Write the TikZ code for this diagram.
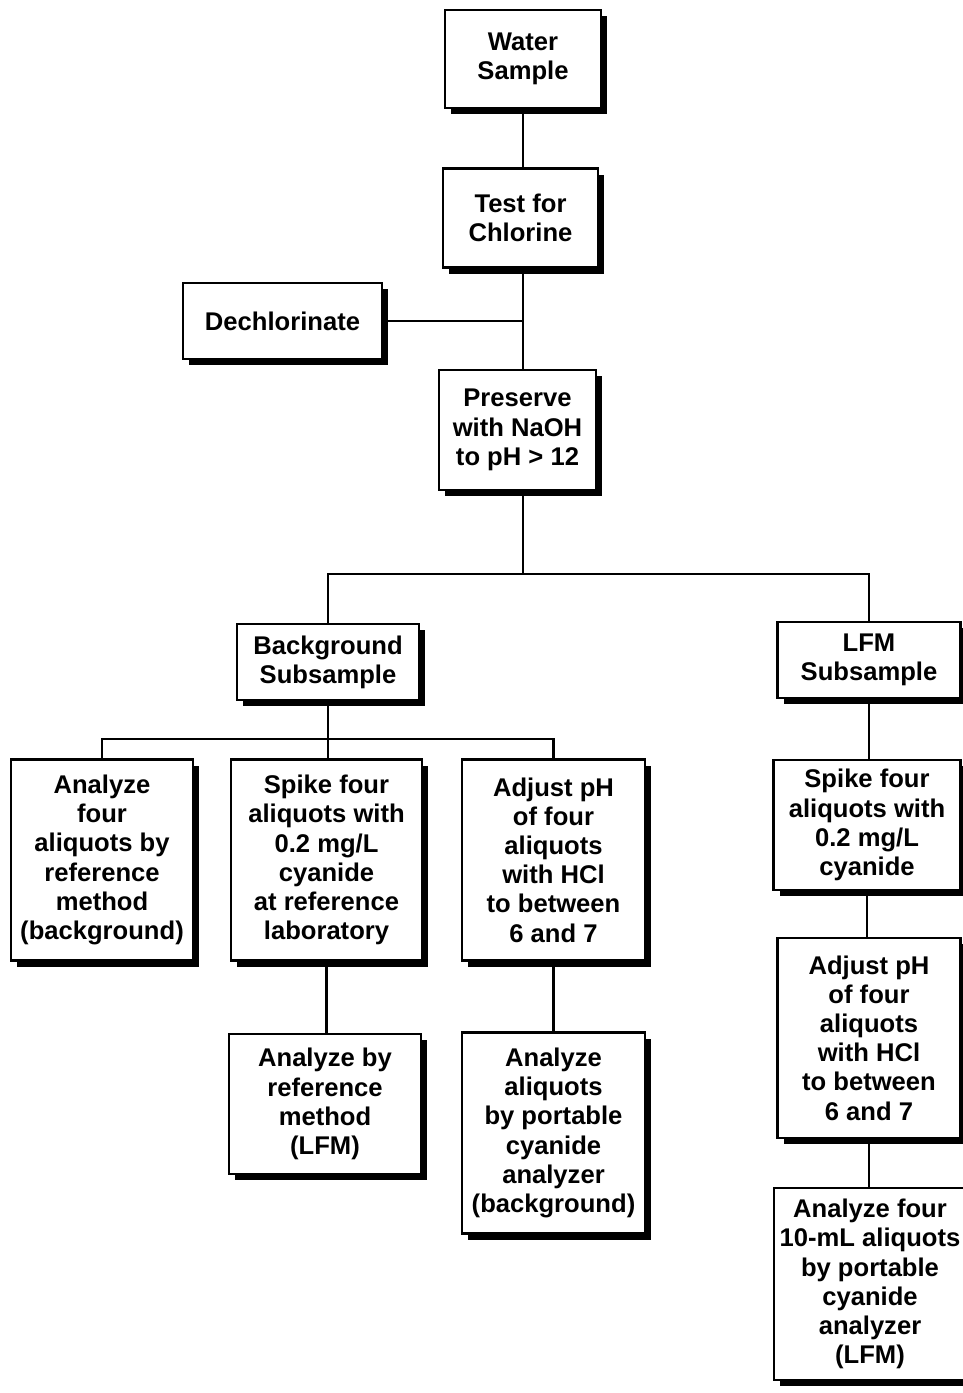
\documentclass[tikz,border=0pt]{standalone}
\usepackage{fontspec}
\setmainfont{Liberation Sans}
\usepackage{tikz}
\usetikzlibrary{shapes, shadows}

\begin{document}
\begin{tikzpicture}[x=1pt,y=-1pt,every node/.style = {align=center, inner sep=0pt},
					line width=2.3pt]

\tikzstyle{step_box} = [rectangle,draw,fill=white,font=\fontsize{25.6}{29.2}\selectfont\bfseries,
	drop shadow={shadow xshift=6pt, shadow yshift=-6pt, fill=black, opacity=1}]
\tikzstyle{link} = [line width=2.3pt]

\useasboundingbox (0,0) rectangle (962,1393);

\node[step_box, minimum width=156, minimum height=98] (water) at (523,59) {Water\\Sample};
\node[step_box, minimum width=155, minimum height=99] (test) at (520.5,218) {Test for\\Chlorine};
\node[step_box, minimum width=199, minimum height=76] (dechlor) at (282.5,321) {Dechlorinate};
\node[step_box, minimum width=157, minimum height=120] (preserve) at (517.5,430) {Preserve\\with NaOH\\to pH > 12};

\node[step_box, minimum width=182, minimum height=76] (bg_sub) at (328,662) {Background\\Subsample};
\node[step_box, minimum width=183, minimum height=76] (lfm_sub) at (869,660) {LFM\\Subsample};

\node[step_box, minimum width=182, minimum height=201] (bg_ref) at (102,860) {Analyze\\four\\aliquots by\\reference\\method\\(background)};
\node[step_box, minimum width=191, minimum height=201] (bg_spike) at (326.5,860) {Spike four\\aliquots with\\0.2 mg/L\\cyanide\\at reference\\laboratory};
\node[step_box, minimum width=183, minimum height=201] (bg_adjust) at (553.5,860) {Adjust pH\\of four\\aliquots\\with HCl\\to between\\6 and 7};
\node[step_box, minimum width=192, minimum height=140] (bg_lfm) at (325,1104) {Analyze by\\reference\\method\\(LFM)};
\node[step_box, minimum width=183, minimum height=201] (bg_port) at (553.5,1133) {Analyze\\aliquots\\by portable\\cyanide\\analyzer\\(background)};

\node[step_box, minimum width=187, minimum height=130] (lfm_spike) at (867,825) {Spike four\\aliquots with\\0.2 mg/L\\cyanide};
\node[step_box, minimum width=183, minimum height=200] (lfm_adjust) at (869,1038) {Adjust pH\\of four\\aliquots\\with HCl\\to between\\6 and 7};
\node[step_box, minimum width=192, minimum height=192] (lfm_port) at (870,1284) {Analyze four\\10-mL aliquots\\by portable\\cyanide\\analyzer\\(LFM)};

\coordinate (split) at (523,574);
\coordinate (bg_split) at (328,739);

\draw[link] (split |- water.south) -- (split |- test.north);
\draw[link] (split |- test.south) -- (split |- preserve.north);
\draw[link] (dechlor.east) -- (dechlor.east -| split);
\draw[link] (split |- preserve.south) -- (split);
\draw[link] (bg_sub.north) -- (bg_sub.north |- split) -- (lfm_sub.north |- split) -- (lfm_sub.north);

\draw[link] (bg_sub.south) -- (bg_split);
\draw[link] (bg_ref.north) -- (bg_ref.north |- bg_split) -- (bg_adjust.north |- bg_split) -- (bg_adjust.north);
\draw[link] (bg_split) -- (bg_split |- bg_spike.north);
\draw[link] (bg_spike.south) -- (bg_spike.south |- bg_lfm.north);
\draw[link] (bg_adjust.south) -- (bg_port.north);

\draw[link] (lfm_sub.south) -- (lfm_sub.south |- lfm_spike.north);
\draw[link] (lfm_spike.south) -- (lfm_spike.south |- lfm_adjust.north);
\draw[link] (lfm_adjust.south) -- (lfm_adjust.south |- lfm_port.north);
\end{tikzpicture}
\end{document}
